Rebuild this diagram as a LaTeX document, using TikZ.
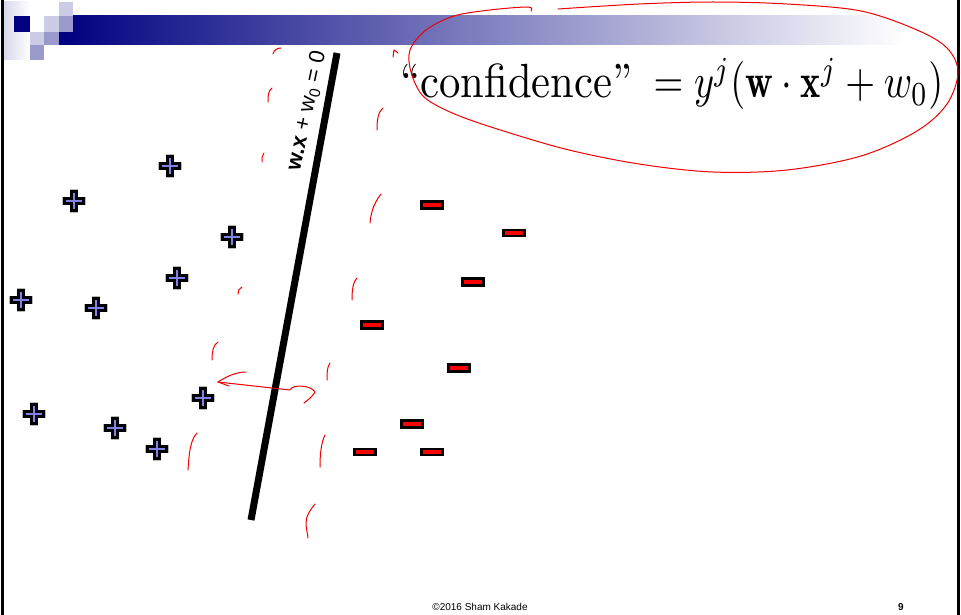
\documentclass[tikz,border=0pt]{standalone}
\usepackage{fontspec}
\newfontfamily\arialf{Liberation Sans}
\definecolor{navyb}{RGB}{0,0,128}
\definecolor{lavl}{RGB}{204,204,230}
\definecolor{lavm}{RGB}{153,153,204}
\definecolor{plusfill}{RGB}{130,130,232}
\definecolor{inkred}{RGB}{240,0,0}
\newcommand\crosspoly[2]{(-#1,-#2) -- (-#2,-#2) -- (-#2,-#1) -- (#2,-#1) -- (#2,-#2) -- (#1,-#2) -- (#1,#2) -- (#2,#2) -- (#2,#1) -- (-#2,#1) -- (-#2,#2) -- (-#1,#2) -- cycle}
\begin{document}
\begin{tikzpicture}[x=1pt,y=-1pt,
  plusm/.style={minimum size=28pt, inner sep=0pt, path picture={
     \begin{scope}[shift={(path picture bounding box.center)}]
       \draw[gray!55, line width=4.4pt, line join=miter] \crosspoly{9.5}{2.2};
       \filldraw[draw=black, fill=plusfill, line width=3pt, line join=miter] \crosspoly{9.5}{2.2};
     \end{scope}}},
  minm/.style={draw=black, fill=red, line width=2.6pt, minimum width=21.5pt, minimum height=7.5pt, inner sep=0pt},
  ink/.style={inkred, line width=1pt, line cap=round, line join=round},
  border/.style={black, line width=2.6pt}]
\useasboundingbox (0,0) rectangle (961,615);
\fill[white] (0,0) rectangle (961,615);
% header
\fill[left color=lavl!80, right color=white] (3,2) rectangle (30,60);
\fill[left color=navyb, right color=white] (59,16) rectangle (905,45);
\fill[navyb] (14,16) rectangle (30,32);
\fill[white] (30,16) rectangle (44,32);
\fill[lavl] (44,16) rectangle (59,32);
\fill[lavm] (59,16) rectangle (73,32);
\fill[lavl] (59,2) rectangle (73,16);
\fill[lavl] (30,32) rectangle (44,45);
\fill[lavm] (44,32) rectangle (59,45);
\fill[lavm] (30,45) rectangle (44,60);
% borders
\draw[border] (2.2,0) -- (2.2,615);
\draw[border] (958.5,0) -- (958.5,615);
% decision boundary
\coordinate (ltop) at (337,53);
\coordinate (lbot) at (251,520);
\draw[black, line width=7pt] (ltop) -- (lbot);
\node[rotate=78, inner sep=0pt, font=\arialf\fontsize{22}{24}\selectfont] (lbl) at (307,111) {\bfseries w.x\mdseries{} + w\textsubscript{0} = 0};
% formula
\node[anchor=base west, inner sep=0pt] (conf) at (400,98) {\scalebox{4.27}[4.8]{``confidence''}\hspace{21pt}\scalebox{3.83}[4.8]{$= y^j(\mathbf{w}\cdot\mathbf{x}^j + w_0)$}};
% positive points
\node[plusm] (p1) at (170,166) {};
\node[plusm] (p2) at (74,201) {};
\node[plusm] (p3) at (232,237) {};
\node[plusm] (p4) at (177,278) {};
\node[plusm] (p5) at (21,300) {};
\node[plusm] (p6) at (96,308) {};
\node[plusm] (p7) at (203,398) {};
\node[plusm] (p8) at (34,414) {};
\node[plusm] (p9) at (115,428) {};
\node[plusm] (p10) at (157,449) {};
% negative points
\node[minm] (m1) at (432,205) {};
\node[minm, minimum height=6pt] (m2) at (514,233) {};
\node[minm] (m3) at (473,282) {};
\node[minm] (m4) at (372,325) {};
\node[minm] (m5) at (459,368) {};
\node[minm] (m6) at (412,424) {};
\node[minm, minimum height=6pt] (m7) at (365,452) {};
\node[minm, minimum height=6pt] (m8) at (432,452) {};
% red ink: ellipse around formula
\draw[ink] plot[smooth, tension=0.55] coordinates {(531,11) (528,7) (490,10) (454,16) (426,30) (410,50) (411,72) (423,96) (450,112) (491,127) (565,149) (639,164) (713,172) (787,170) (861,156) (917,131) (947,104) (958,72) (947,48) (917,30) (861,11) (787,4) (713,2) (639,4) (558,9)};
% red ink: margin strokes
\draw[ink] (273,54) .. controls (274,50) and (277,48) .. (281,48);
\draw[ink] (272,88) .. controls (268,91) and (268,96) .. (268,102);
\draw[ink] (264,153) .. controls (262,155) and (262,158) .. (262,162);
\draw[ink] (383,108) .. controls (378,112) and (377,120) .. (377,130);
\draw[ink] (381,194) .. controls (374,203) and (371,212) .. (370,223);
\draw[ink] (357,278) .. controls (353,282) and (352,290) .. (352,300);
\draw[ink] (330,363) .. controls (327,367) and (327,373) .. (327,380);
\draw[ink] (242,287) .. controls (239,288) and (238,291) .. (238,294);
\draw[ink] (218,342) .. controls (213,345) and (212,352) .. (212,360);
\draw[ink] (197,433) .. controls (190,440) and (189,455) .. (188,470);
\draw[ink] (325,435) .. controls (321,443) and (320,455) .. (320,467);
\draw[ink] (315,504) .. controls (310,510) and (306,516) .. (306,523) .. controls (306,530) and (308,534) .. (308,538);
\draw[ink] (393,57) -- (394,50) -- (398,53);
% red ink: distance arrow
\coordinate (atip) at (218,382);
\coordinate (aend) at (290,390);
\draw[ink] (atip) -- (aend) .. controls (292,384) and (311,385) .. (315,392) .. controls (313,396) and (308,400) .. (304,403);
\draw[ink] (atip) .. controls (227,376) and (237,372) .. (246,372);
\draw[ink] (atip) -- (229,386);
% footer
\node[anchor=base, inner sep=0pt, font=\arialf\fontsize{10}{12}\selectfont] (copy) at (480,610) {©2016 Sham Kakade};
\node[anchor=base, inner sep=0pt, font=\arialf\bfseries\fontsize{10}{12}\selectfont] (pg) at (901,610) {9};
\end{tikzpicture}
\end{document}
